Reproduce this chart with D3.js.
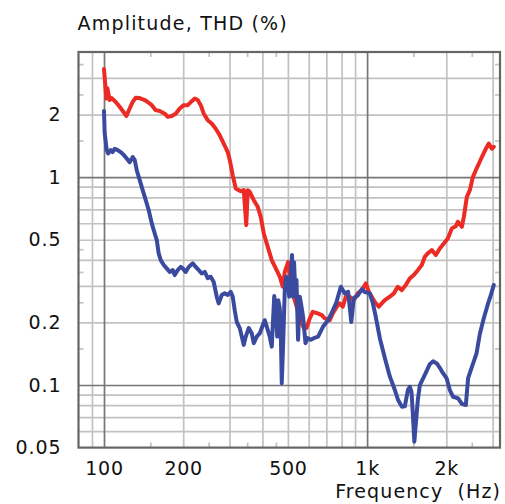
<!DOCTYPE html>
<html><head><meta charset="utf-8">
<script src="https://cdn.jsdelivr.net/npm/d3@7/dist/d3.min.js"></script>
<style>body{margin:0;background:#fff} svg{display:block}</style>
</head><body><svg id="c" width="505" height="504"></svg>
<script>
// ---- data (frequency in Hz, value in %) ----
const redFreq = [100,102.1,103.0,105.1,107.0,110.8,114.7,121.7,125.2,128.6,132.0,136.7,142.8,146.6,151.9,157.3,162.8,170.2,174.7,180.9,187.3,194.0,200.9,208.1,215.6,221.3,227.2,233.2,239.4,247.9,256.7,265.9,275.4,285.2,295.3,300.6,308.6,316.8,325.2,331.0,339.8,347.3,351.9,358.1,370.9,384.1,394.3,404.8,419.2,434.1,449.7,465.7,478.1,486.4,500.8,512.8,531.1,554.9,574.6,588.4,605.5,621.6,649.4,672.6,690.5,721.4,740.6,767.0,787.4,808.3,829.8,859.5,890.1,921.8,954.6,988.8,1015,1042,1070,1108,1137,1168,1220,1264,1308,1355,1403,1454,1505,1559,1614,1657,1701,1762,1825,1890,1957,2027,2100,2174,2213,2292,2332,2394,2458,2523,2590,2659,2730,2828,2901,2980,3032];
const redVal  = [3.31,2.39,2.68,2.35,2.40,2.30,2.18,1.97,2.14,2.30,2.41,2.40,2.35,2.30,2.22,2.10,2.08,2.02,1.95,1.97,2.02,2.14,2.22,2.22,2.32,2.39,2.35,2.22,2.02,1.88,1.81,1.71,1.59,1.45,1.32,1.21,1.02,0.882,0.866,0.856,0.866,0.588,0.866,0.850,0.775,0.720,0.644,0.536,0.462,0.399,0.364,0.332,0.297,0.350,0.390,0.303,0.256,0.210,0.188,0.188,0.209,0.225,0.221,0.217,0.209,0.205,0.221,0.238,0.247,0.238,0.266,0.266,0.256,0.276,0.286,0.308,0.281,0.266,0.251,0.238,0.247,0.256,0.266,0.276,0.297,0.286,0.303,0.326,0.338,0.357,0.378,0.414,0.430,0.446,0.422,0.454,0.480,0.507,0.567,0.581,0.610,0.577,0.644,0.804,0.866,1.00,1.08,1.16,1.25,1.37,1.45,1.37,1.40];

const blueFreq = [100,100.6,102.4,103.7,106.1,107.9,109.8,112.7,115.7,118.8,122.0,125.2,128.6,130.8,133.2,136.7,140.3,144.1,147.9,151.9,155.9,158.7,161.4,164.3,168.7,173.1,177.7,182.4,185.7,190.6,195.7,199.2,204.4,209.9,217.5,223.2,229.2,235.2,241.5,247.9,254.5,261.2,268.2,272.9,280.2,287.6,295.3,303.1,308.6,314.0,319.6,328.1,334.0,339.8,345.8,355.0,364.5,370.9,380.7,390.8,397.7,408.3,415.5,426.6,434.1,437.9,443.7,451.5,455.5,459.5,465.7,469.7,473.9,480.1,486.5,492.9,499.4,505.9,512.6,518.4,523.0,527.6,533.3,539.0,546.5,554.7,562.1,571.1,583.2,595.0,610.9,627.2,651.3,680.2,710.6,732.2,765.0,794.3,822.8,847.0,870.8,890.1,924.4,954.6,980.1,1024,1051,1079,1118,1168,1220,1275,1312,1355,1391,1429,1454,1475,1492,1512,1536,1559,1587,1657,1731,1782,1841,1890,1935,2004,2063,2123,2218,2292,2373,2421,2479,2529,2606,2682,2778,2884,2953,3032];
const blueVal  = [2.08,1.63,1.35,1.30,1.35,1.32,1.37,1.35,1.32,1.28,1.23,1.18,1.25,1.21,1.08,0.967,0.866,0.775,0.694,0.599,0.536,0.498,0.430,0.399,0.378,0.364,0.350,0.357,0.338,0.357,0.370,0.364,0.350,0.370,0.385,0.370,0.357,0.344,0.350,0.327,0.332,0.313,0.266,0.247,0.271,0.276,0.271,0.281,0.266,0.229,0.201,0.188,0.171,0.156,0.171,0.188,0.177,0.159,0.171,0.177,0.188,0.205,0.191,0.171,0.153,0.191,0.268,0.213,0.171,0.256,0.234,0.184,0.102,0.165,0.286,0.332,0.320,0.266,0.338,0.422,0.266,0.390,0.286,0.320,0.165,0.266,0.242,0.213,0.159,0.168,0.165,0.168,0.171,0.191,0.205,0.221,0.251,0.297,0.276,0.281,0.201,0.262,0.271,0.289,0.280,0.276,0.248,0.213,0.168,0.135,0.110,0.0946,0.0847,0.0787,0.0790,0.0946,0.0981,0.0925,0.0733,0.0534,0.0679,0.0847,0.100,0.112,0.126,0.130,0.127,0.121,0.115,0.108,0.0946,0.0878,0.0863,0.0811,0.0801,0.108,0.118,0.127,0.142,0.176,0.210,0.247,0.271,0.303];

const xDomain = [80, 3200];
const yDomain = [0.05, 4];
const xMajorGrid = [100, 1000];
const xMinorGrid = [90, 200, 300, 400, 500, 600, 700, 800, 900, 2000, 3000];
const xMinorTicks = [150, 250, 350, 450, 1500, 2500];
const xLabelVals = [100, 200, 500, 1000, 2000];
const xLabelText = ["100", "200", "500", "1k", "2k"];
const yMajorGrid = [1, 0.1];
const yMinorGrid = [3, 2, 0.9, 0.8, 0.7, 0.6, 0.5, 0.4, 0.3, 0.2, 0.09, 0.08, 0.07, 0.06];
const yMinorTicks = [3.5, 2.5, 1.5, 0.45, 0.35, 0.25, 0.15];
const yLabelVals = [2, 1, 0.5, 0.2, 0.1, 0.05];
const yLabelText = ["2", "1", "0.5", "0.2", "0.1", "0.05"];
const titleText = "Amplitude, THD (%)";
const xTitleText = "Frequency  (Hz)";

// ---- layout ----
const L = 78.5, R = 500, T = 52, B = 447.6;
const svg = d3.select("#c");
const FONT = "DejaVu Sans, Verdana, sans-serif";
const x = d3.scaleLog().domain(xDomain).range([L, R]);
const y = d3.scaleLog().domain(yDomain).range([B, T]);

const light = "#c2c2c2", dark = "#767676";

function vgrid(vals, color, w) {
  const g = svg.append("g").attr("transform", `translate(0,${B})`)
    .call(d3.axisBottom(x).tickValues(vals).tickSize(-(B - T)).tickFormat(""));
  g.select(".domain").remove();
  g.selectAll("line").attr("stroke", color).attr("stroke-width", w);
}
function hgrid(vals, color, w) {
  const g = svg.append("g").attr("transform", `translate(${L},0)`)
    .call(d3.axisLeft(y).tickValues(vals).tickSize(-(R - L)).tickFormat(""));
  g.select(".domain").remove();
  g.selectAll("line").attr("stroke", color).attr("stroke-width", w);
}
vgrid(xMinorGrid, light, 1.7);
hgrid(yMinorGrid, light, 1.7);
vgrid(xMajorGrid, dark, 1.7);
hgrid(yMajorGrid, dark, 1.7);

// minor tick marks (inside the frame)
function ticks(axisFn, scale, vals, tr, size) {
  const g = svg.append("g").attr("transform", tr)
    .call(axisFn(scale).tickValues(vals).tickSize(size).tickFormat(""));
  g.select(".domain").remove();
  g.selectAll("line").attr("stroke", light).attr("stroke-width", 1.7);
}
ticks(d3.axisBottom, x, xMinorTicks, `translate(0,${T})`, 5);
ticks(d3.axisTop, x, xMinorTicks, `translate(0,${B})`, 5);
ticks(d3.axisRight, y, yMinorTicks, `translate(${L},0)`, 5);
ticks(d3.axisLeft, y, yMinorTicks, `translate(${R},0)`, 5);

// frame
svg.append("rect").attr("x", L).attr("y", T).attr("width", R - L).attr("height", B - T)
  .attr("fill", "none").attr("stroke", "#666").attr("stroke-width", 2.2);

// curves
const line = d3.line().x(d => x(d[0])).y(d => y(d[1]));
svg.append("path").datum(redFreq.map((f, i) => [f, redVal[i]]))
  .attr("d", line).attr("fill", "none").attr("stroke", "#ec2b25")
  .attr("stroke-width", 4).attr("stroke-linejoin", "round").attr("stroke-linecap", "round");
svg.append("path").datum(blueFreq.map((f, i) => [f, blueVal[i]]))
  .attr("d", line).attr("fill", "none").attr("stroke", "#3a4a9f")
  .attr("stroke-width", 4).attr("stroke-linejoin", "round").attr("stroke-linecap", "round");

// axis labels
const xa = svg.append("g").attr("transform", `translate(0,${B})`)
  .call(d3.axisBottom(x).tickValues(xLabelVals).tickSize(0).tickPadding(13.5)
    .tickFormat((d, i) => xLabelText[i]));
xa.select(".domain").remove();
xa.selectAll("text").attr("font-family", FONT).attr("font-size", 19)
  .attr("letter-spacing", 0.7).attr("fill", "#111");

const ya = svg.append("g").attr("transform", `translate(${L},0)`)
  .call(d3.axisLeft(y).tickValues(yLabelVals).tickSize(0).tickPadding(17)
    .tickFormat((d, i) => yLabelText[i]));
ya.select(".domain").remove();
ya.selectAll("text").attr("font-family", FONT).attr("font-size", 19)
  .attr("letter-spacing", 0.9).attr("fill", "#111");

svg.append("text").attr("x", 77.5).attr("y", 29.5).text(titleText)
  .attr("font-family", FONT).attr("font-size", 19).attr("letter-spacing", 1.2).attr("fill", "#111");
svg.append("text").attr("x", 501).attr("y", 498).attr("text-anchor", "end")
  .style("white-space", "pre").text(xTitleText)
  .attr("font-family", FONT).attr("font-size", 19).attr("letter-spacing", 1.1).attr("fill", "#111");
</script></body></html>
